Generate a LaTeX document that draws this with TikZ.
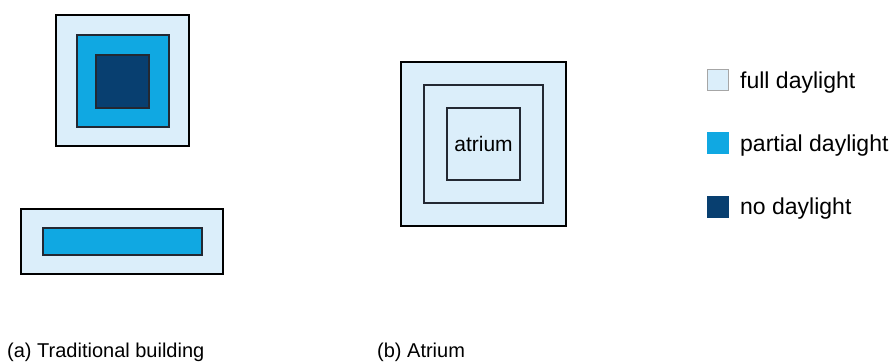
\documentclass[tikz,border=0pt]{standalone}
\usepackage{fontspec}
\setmainfont{Liberation Sans}
\definecolor{fullc}{RGB}{219,238,250}
\definecolor{partc}{RGB}{16,168,226}
\definecolor{nonec}{RGB}{8,63,112}
\definecolor{edgec}{RGB}{35,40,50}
\begin{document}
\begin{tikzpicture}[x=1pt,y=-1pt,
  zone/.style={rectangle, inner sep=0pt, outer sep=0pt, anchor=north west},
  outerbox/.style={zone, fill=fullc, draw=black, line width=2.6pt},
  partbox/.style={zone, fill=partc, draw=edgec, line width=1.6pt},
  darkbox/.style={zone, fill=nonec, draw=edgec, line width=1.4pt},
  ringbox/.style={zone, fill=fullc, draw=edgec, line width=2pt},
  keybox/.style={zone, minimum width=21pt, minimum height=21pt, line width=0.8pt},
  keytext/.style={anchor=base west, inner sep=0pt, font=\fontsize{23}{27}\selectfont},
  caption/.style={anchor=base west, inner sep=0pt, font=\fontsize{20}{24}\selectfont}]
\useasboundingbox (0,0) rectangle (892,364);
\fill[white] (0,0) rectangle (892,364);
% (a) square building
\node[outerbox, minimum width=133pt, minimum height=131pt] (sqout) at (56,15) {};
\node[partbox, minimum width=92pt, minimum height=92pt] (sqmid) at (77,35) {};
\node[darkbox, minimum width=53pt, minimum height=53pt] (sqin) at (96,55) {};
% (a) long building
\node[outerbox, minimum width=202pt, minimum height=65pt] (lgout) at (21,209) {};
\node[partbox, minimum width=159pt, minimum height=27pt] (lgin) at (43,228) {};
% (b) atrium
\node[outerbox, minimum width=165pt, minimum height=164pt] (atout) at (401,62) {};
\node[ringbox, minimum width=119pt, minimum height=118pt] (atmid) at (424,85) {};
\node[ringbox, minimum width=73pt, minimum height=72pt] (atin) at (447,108) {};
\node[inner sep=0pt, font=\fontsize{21}{25}\selectfont] (atlabel) at (atin.center) {atrium};
% legend
\node[keybox, fill=fullc, draw=gray!70] (k1) at (707,69) {};
\node[keybox, fill=partc, draw=partc] (k2) at (707,132) {};
\node[keybox, fill=nonec, draw=nonec] (k3) at (707,196) {};
\node[keytext] (t1) at (740,88) {full daylight};
\node[keytext] (t2) at (740,151) {partial daylight};
\node[keytext] (t3) at (740,214) {no daylight};
% captions
\node[caption] (capa) at (7,357) {(a) Traditional building};
\node[caption] (capb) at (377,357) {(b) Atrium};
\end{tikzpicture}
\end{document}
